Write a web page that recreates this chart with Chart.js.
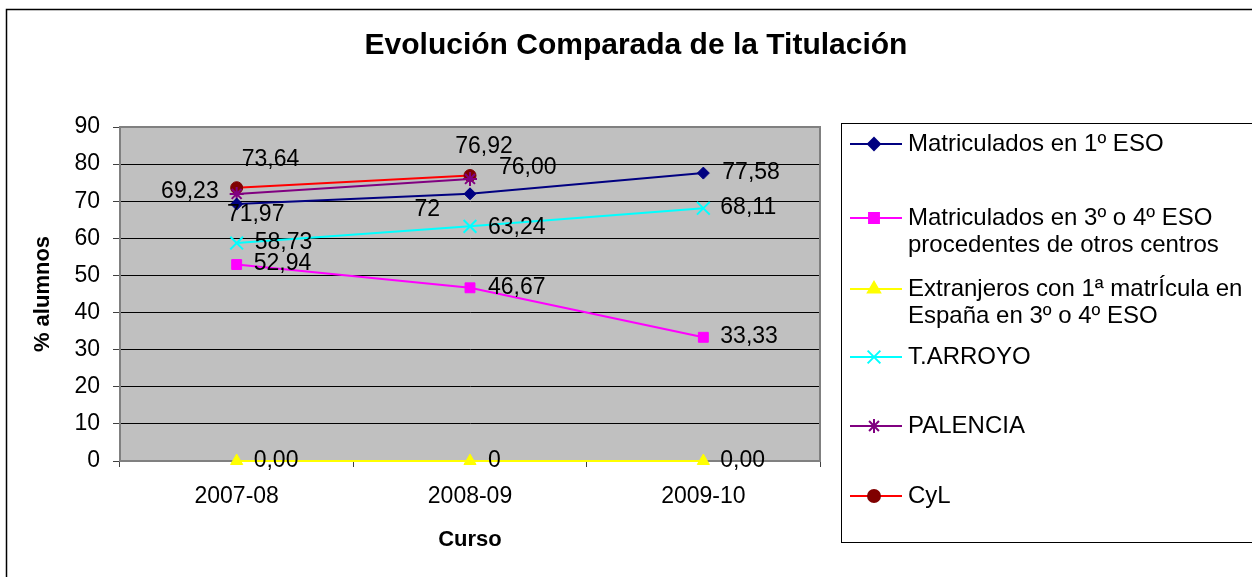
<!DOCTYPE html>
<html>
<head>
<meta charset="utf-8">
<script src="https://cdn.jsdelivr.net/npm/chart.js@4/dist/chart.umd.min.js"></script>
<style>
  html, body { margin: 0; padding: 0; background: #fff; }
  #wrap { width: 1252px; height: 577px; }
</style>
</head>
<body>
<div id="wrap"><canvas id="chart"></canvas></div>
<script>
// datos
const cursos = ['2007-08', '2008-09', '2009-10'];
const matric1 = [69.23, 72, 77.58];
const matric34 = [52.94, 46.67, 33.33];
const extranjeros = [0, 0, 0];
const tArroyo = [58.73, 63.24, 68.11];
const palencia = [71.97, 76.00, null];
const cyl = [73.64, 76.92, null];

// texto de las etiquetas tal como salen en el original
const labMatric1 = ['69,23', '72', '77,58'];
const labMatric34 = ['52,94', '46,67', '33,33'];
const labExtranjeros = ['0,00', '0', '0,00'];
const labArroyo = ['58,73', '63,24', '68,11'];
const labPalencia = ['71,97', '76,00', null];
const labCyl = ['73,64', '76,92', null];

const leyenda = [
  ['Matriculados en 1º ESO'],
  ['Matriculados en 3º o 4º ESO', 'procedentes de otros centros'],
  ['Extranjeros con 1ª matrÍcula en', 'España en 3º o 4º ESO'],
  ['T.ARROYO'],
  ['PALENCIA'],
  ['CyL']
];

const yTicks = [0, 10, 20, 30, 40, 50, 60, 70, 80, 90];

const FONT = 'Arial, "Liberation Sans", sans-serif';

function serie(i, data, labels, color, markerColor, style, radius, offsets) {
  return {
    label: leyenda[i].join(' '),
    data: data,
    borderColor: color,
    backgroundColor: markerColor,
    pointBackgroundColor: markerColor,
    pointBorderColor: markerColor,
    pointStyle: style,
    pointRadius: radius,
    pointBorderWidth: (style === 'crossRot' || style === 'star') ? 2 : 1,
    borderWidth: 2,
    tension: 0,
    clip: false,
    valueLabels: labels,
    labelOffsets: offsets
  };
}

const datasets = [
  serie(0, matric1, labMatric1, '#000080', '#000080', 'rectRot', 6,
    [[-18, -12, 'right'], [-30, 16, 'right'], [19, 0, 'left']]),
  serie(1, matric34, labMatric34, '#FF00FF', '#FF00FF', 'rect', 7,
    [[17, -1, 'left'], [18, 0, 'left'], [17, -1, 'left']]),
  serie(2, extranjeros, labExtranjeros, '#FFFF00', '#FFFF00', 'triangle', 7,
    [[17, 0, 'left'], [18, 0, 'left'], [17, 0, 'left']]),
  serie(3, tArroyo, labArroyo, '#00FFFF', '#00FFFF', 'crossRot', 9,
    [[18, 0, 'left'], [18, 1, 'left'], [17, -1, 'left']]),
  serie(4, palencia, labPalencia, '#800080', '#800080', 'star', 7,
    [[19, 21, 'center'], [29, -11, 'left'], null]),
  serie(5, cyl, labCyl, '#FF0000', '#800000', 'circle', 6,
    [[5, -28, 'left'], [14, -29, 'center'], null])
];

// fondo gris del area de trazado y marco
const plotBg = {
  id: 'plotBg',
  beforeDraw(chart) {
    const { ctx, chartArea: a } = chart;
    ctx.save();
    ctx.fillStyle = '#fff';
    ctx.fillRect(0, 0, chart.width, chart.height);
    ctx.fillStyle = '#C0C0C0';
    ctx.fillRect(a.left, a.top, a.right - a.left, a.bottom - a.top);
    ctx.restore();
  },
  beforeDatasetsDraw(chart) {
    const { ctx, chartArea: a } = chart;
    ctx.save();
    ctx.strokeStyle = '#808080';
    ctx.lineWidth = 2;
    ctx.strokeRect(a.left, a.top, a.right - a.left, a.bottom - a.top);
    ctx.restore();
  }
};

// etiquetas de valores
const valueLabels = {
  id: 'valueLabels',
  afterDatasetsDraw(chart) {
    const ctx = chart.ctx;
    ctx.save();
    ctx.font = '23px ' + FONT;
    ctx.fillStyle = '#000';
    ctx.textBaseline = 'middle';
    chart.data.datasets.forEach((ds, i) => {
      const meta = chart.getDatasetMeta(i);
      meta.data.forEach((pt, j) => {
        const txt = ds.valueLabels[j];
        const off = ds.labelOffsets[j];
        if (txt == null || off == null || ds.data[j] == null) return;
        ctx.textAlign = off[2];
        ctx.fillText(txt, pt.x + off[0], pt.y + off[1]);
      });
    });
    ctx.restore();
  }
};

// titulo, marco exterior y leyenda
const decor = {
  id: 'decor',
  afterDraw(chart) {
    const ctx = chart.ctx;
    ctx.save();
    ctx.strokeStyle = '#000';
    ctx.lineWidth = 1.5;
    ctx.beginPath();
    ctx.moveTo(6.5, chart.height + 2);
    ctx.lineTo(6.5, 9.5);
    ctx.lineTo(chart.width + 2, 9.5);
    ctx.stroke();

    ctx.fillStyle = '#000';
    ctx.font = 'bold 30px ' + FONT;
    ctx.textAlign = 'center';
    ctx.textBaseline = 'middle';
    ctx.fillText('Evolución Comparada de la Titulación', 636, 46);

    // caja de leyenda
    ctx.strokeStyle = '#000';
    ctx.lineWidth = 1;
    ctx.strokeRect(841.5, 123.5, 420, 419);

    const rows = [[144], [218, 245], [289, 316], [357], [426], [496]];
    ctx.font = '24px ' + FONT;
    ctx.textAlign = 'left';
    chart.data.datasets.forEach((ds, i) => {
      const y = rows[i][0];
      ctx.strokeStyle = ds.borderColor;
      ctx.lineWidth = 2;
      ctx.beginPath();
      ctx.moveTo(850, y);
      ctx.lineTo(902, y);
      ctx.stroke();
      ctx.fillStyle = ds.pointBackgroundColor;
      ctx.strokeStyle = ds.pointBorderColor;
      Chart.helpers.drawPoint(ctx, {
        pointStyle: ds.pointStyle,
        radius: ds.pointRadius,
        rotation: 0,
        borderWidth: ds.pointBorderWidth
      }, 874, y);
      ctx.fillStyle = '#000';
      leyenda[i].forEach((line, k) => {
        ctx.fillText(line, 908, rows[i][k]);
      });
    });
    ctx.restore();
  }
};

new Chart(document.getElementById('chart'), {
  type: 'line',
  data: { labels: cursos, datasets: datasets },
  options: {
    responsive: true,
    maintainAspectRatio: false,
    animation: false,
    layout: { padding: { top: 127, right: 432, bottom: 0, left: 0 } },
    plugins: {
      legend: { display: false },
      title: { display: false },
      tooltip: { enabled: false }
    },
    scales: {
      x: {
        offset: true,
        afterFit(scale) { scale.height = 116; },
        grid: {
          offset: true,
          drawOnChartArea: false,
          drawTicks: true,
          tickLength: 6,
          color: '#404040',
          lineWidth: 1
        },
        border: { display: true, color: '#404040', width: 1 },
        ticks: {
          color: '#000',
          padding: 16,
          maxRotation: 0,
          font: { family: FONT, size: 23 }
        },
        title: {
          display: true,
          text: 'Curso',
          color: '#000',
          font: { family: FONT, size: 22, weight: 'bold' },
          padding: { top: 0, bottom: 24 }
        }
      },
      y: {
        min: 0,
        max: 90,
        afterFit(scale) { scale.width = 120; },
        afterBuildTicks(scale) { scale.ticks = yTicks.map(v => ({ value: v })); },
        grid: {
          color: '#000',
          lineWidth: 1,
          drawTicks: true,
          tickLength: 7,
          tickColor: '#404040'
        },
        border: { display: true, color: '#404040', width: 1 },
        ticks: {
          color: '#000',
          padding: 13,
          font: { family: FONT, size: 23 }
        },
        title: {
          display: true,
          text: '% alumnos',
          color: '#000',
          font: { family: FONT, size: 22, weight: 'bold' },
          padding: { top: 30, bottom: 0 }
        }
      }
    }
  },
  plugins: [plotBg, valueLabels, decor]
});
</script>
</body>
</html>
